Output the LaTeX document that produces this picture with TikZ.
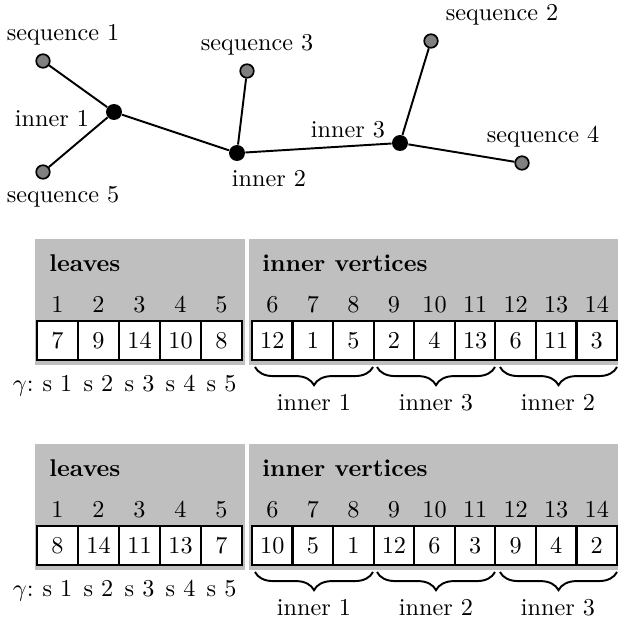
\documentclass[tikz,border=0pt]{standalone}
\usetikzlibrary{decorations.pathreplacing}
\tikzset{
 leaf/.style={circle, draw=black, fill=gray, line width=0.7pt, inner sep=0pt, minimum size=5.6pt},
 innerv/.style={circle, fill=black, inner sep=0pt, minimum size=6.6pt},
 edgeline/.style={line width=0.8pt},
 lbl/.style={inner sep=0pt, anchor=base},
 cell/.style={draw, fill=white, line width=0.9pt, minimum height=16.1pt, inner sep=0pt},
 leafcell/.style={cell, minimum width=16.93pt},
 innercell/.style={cell, minimum width=16.75pt},
 hdr/.style={font=\bfseries, anchor=base west, inner sep=0pt},
 bgbox/.style={fill=black!25},
 brc/.style={decorate, decoration={brace, mirror, amplitude=7.5pt}, line width=0.8pt},
}
\newcommand{\drawtable}[7]{%
 \begin{scope}[shift={(0,#2)}]
  \fill[bgbox] (35,239) rectangle (245,365);
  \fill[bgbox] (249,239) rectangle (618,365);
  \node[hdr] (#1lh) at (49,271) {leaves};
  \node[hdr] (#1ih) at (262,271) {inner vertices};
  \foreach \v [count=\i] in {#3} {
    \node[leafcell] (#1c\i) at ({57.5+41*(\i-1)},340.5) {\v};
    \node[lbl] (#1n\i) at ({57.5+41*(\i-1)},312) {\i};
    \node[lbl] (#1s\i) at ({57.5+41*(\i-1)},391) {s \i};
  }
  \foreach \v [count=\i from 6] in {#4} {
    \node[innercell] (#1c\i) at ({272.3+40.56*(\i-6)},340.5) {\v};
    \node[lbl] (#1n\i) at ({272.3+40.56*(\i-6)},312) {\i};
  }
  \node[inner sep=0pt, anchor=base east] (#1g) at (34,391) {$\gamma$:};
  \coordinate (#1b1a) at (255,367); \coordinate (#1b1b) at (373,367);
  \coordinate (#1b2a) at (377,367); \coordinate (#1b2b) at (495,367);
  \coordinate (#1b3a) at (500,367); \coordinate (#1b3b) at (617,367);
  \draw[brc] (#1b1a) -- (#1b1b);
  \draw[brc] (#1b2a) -- (#1b2b);
  \draw[brc] (#1b3a) -- (#1b3b);
  \node[lbl] (#1bl1) at (314,410) {#5};
  \node[lbl] (#1bl2) at (436,410) {#6};
  \node[lbl] (#1bl3) at (558,410) {#7};
 \end{scope}}
\begin{document}
\begin{tikzpicture}[x=0.413pt, y=-0.413pt]
\useasboundingbox (0,0) rectangle (618,621);
% tree
\node[leaf] (s1) at (43,61) {};
\node[leaf] (s5) at (43,172) {};
\node[leaf] (s3) at (247,71) {};
\node[leaf] (s2) at (431,41) {};
\node[leaf] (s4) at (522,163) {};
\node[innerv] (i1) at (114,112) {};
\node[innerv] (i2) at (237,153) {};
\node[innerv] (i3) at (400,143) {};
\draw[edgeline] (s1) -- (i1);
\draw[edgeline] (s5) -- (i1);
\draw[edgeline] (i1) -- (i2);
\draw[edgeline] (s3) -- (i2);
\draw[edgeline] (i2) -- (i3);
\draw[edgeline] (s2) -- (i3);
\draw[edgeline] (i3) -- (s4);
\node[lbl] (ls1) at (63,41) {sequence 1};
\node[lbl] (ls5) at (63,202) {sequence 5};
\node[lbl] (li1) at (52,127) {inner 1};
\node[lbl] (ls3) at (257,51) {sequence 3};
\node[lbl] (li2) at (269,187) {inner 2};
\node[lbl] (ls2) at (502,21) {sequence 2};
\node[lbl] (li3) at (348,137) {inner 3};
\node[lbl] (ls4) at (543,143) {sequence 4};
% tables
\drawtable{ta}{0}{7,9,14,10,8}{12,1,5,2,4,13,6,11,3}{inner 1}{inner 3}{inner 2}
\drawtable{tb}{205}{8,14,11,13,7}{10,5,1,12,6,3,9,4,2}{inner 1}{inner 2}{inner 3}
\end{tikzpicture}
\end{document}
